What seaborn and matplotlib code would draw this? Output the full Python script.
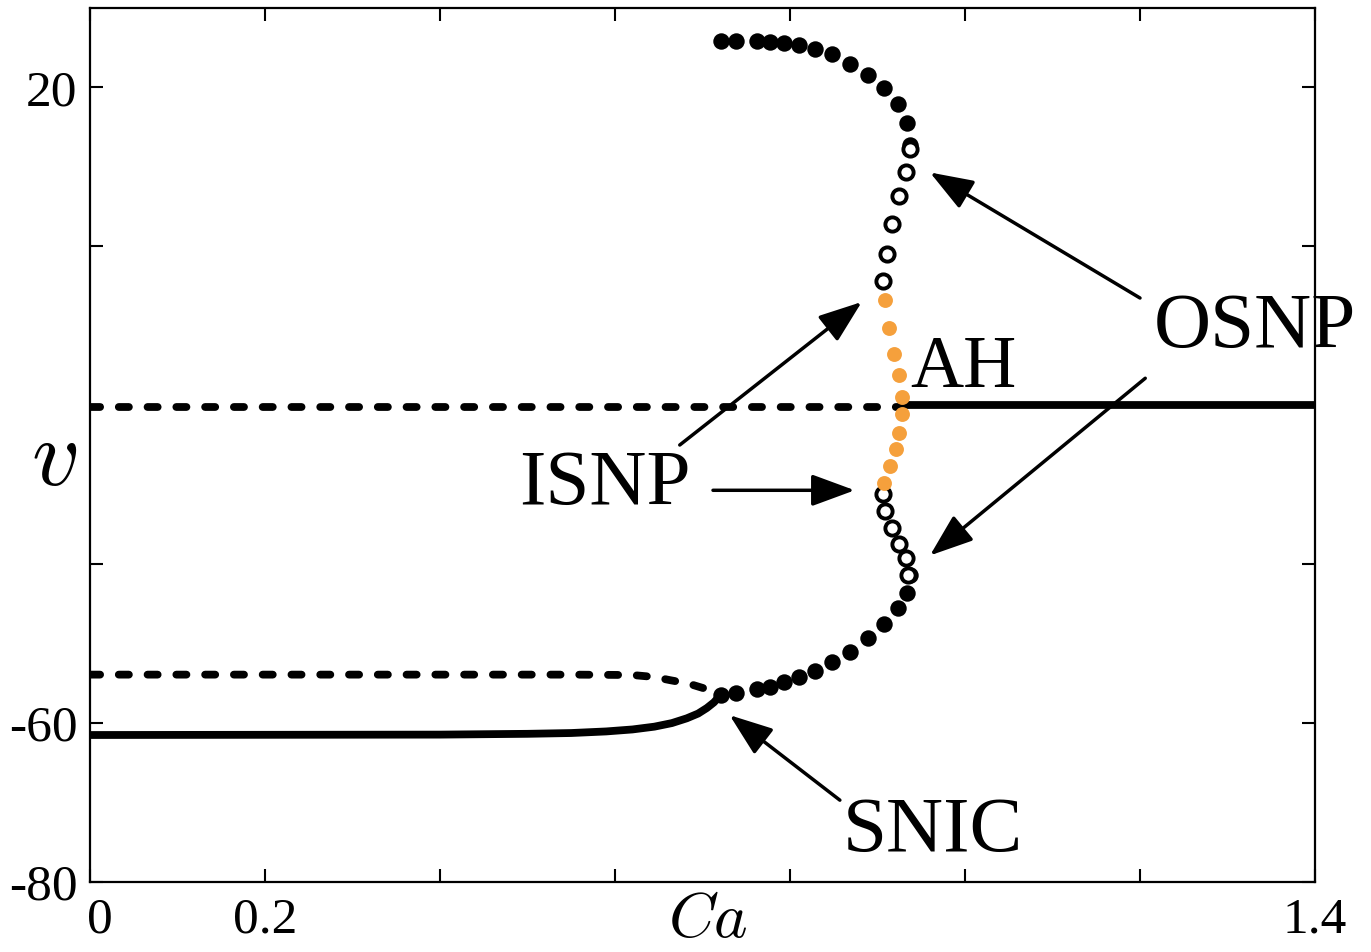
import numpy as np
import pandas as pd
import matplotlib
matplotlib.use("Agg")
import matplotlib.pyplot as plt
import matplotlib.transforms as mtransforms
import seaborn as sns

# ---------------- data ----------------
# equilibria
stable_low_x = [0.0, 0.40, 0.50, 0.55, 0.59, 0.62, 0.645, 0.665, 0.682, 0.695, 0.705, 0.713, 0.718, 0.722]
stable_low_v = [-61.5, -61.45, -61.35, -61.25, -61.05, -60.8, -60.45, -60.0, -59.4, -58.8, -58.1, -57.4, -56.8, -56.2]
saddle_x = [0.0, 0.55, 0.62, 0.645, 0.663, 0.683, 0.701, 0.713, 0.722]
saddle_v = [-53.9, -53.9, -53.95, -54.2, -54.6, -55.0, -55.6, -55.95, -56.2]
unstable_up_x = [0.0, 0.928]
unstable_up_v = [-20.2, -20.2]
stable_up_x = [0.928, 1.4]
stable_up_v = [-20.0, -20.0]

# stable periodic orbits (max / min)
spo_x = [0.721, 0.738, 0.762, 0.777, 0.793, 0.810, 0.829, 0.848, 0.869, 0.889, 0.907, 0.923, 0.934, 0.937]
spo_max = [25.8, 25.8, 25.8, 25.7, 25.6, 25.3, 24.9, 24.2, 23.0, 21.6, 19.9, 17.9, 15.5, 12.7]
spo_min = [-56.5, -56.2, -55.7, -55.4, -54.8, -54.2, -53.4, -52.3, -51.0, -49.3, -47.5, -45.5, -43.6, -41.4]

# unstable periodic orbits (outer, open circles)
upo_x_max = [0.937, 0.933, 0.925, 0.917, 0.911, 0.906]
upo_max = [12.3, 9.3, 6.3, 2.8, -0.9, -4.4]
upo_x_min = [0.935, 0.933, 0.925, 0.917, 0.909, 0.906]
upo_min = [-41.3, -39.2, -37.4, -35.5, -33.3, -31.2]

# unstable periodic orbits born at AH (orange)
ah_x = [0.909, 0.913, 0.919, 0.925, 0.928, 0.928, 0.925, 0.921, 0.914, 0.907]
ah_v = [-6.8, -10.3, -13.6, -16.2, -19.0, -21.1, -23.5, -25.5, -27.7, -29.8]

xtick_vals = [0, 0.2, 0.4, 0.6, 0.8, 1.0, 1.2, 1.4]
xtick_labels = ["0", "0.2", "", "", "", "", "", "1.4"]
ytick_vals = [-80, -60, -40, -20, 0, 20]
ytick_labels = ["-80", "-60", "", "", "", "20"]

# ---------------- style ----------------
sns.set_style("ticks")
plt.rcParams["font.family"] = ["Liberation Serif", "DejaVu Serif"]
plt.rcParams["mathtext.fontset"] = "cm"
plt.rcParams["text.color"] = "black"
plt.rcParams["axes.labelcolor"] = "black"

fig = plt.figure(figsize=(13.71, 9.52), dpi=100)
ax = fig.add_axes([90 / 1371, 1 - 882 / 952, 1225 / 1371, 874 / 952])

lw = 5.6
dash = (1.3, 2.4)

def line(x, v, dashed):
    df = pd.DataFrame({"x": x, "v": v})
    sns.lineplot(data=df, x="x", y="v", sort=False, ax=ax, color="black",
                 lw=lw, estimator=None, zorder=2)
    l = ax.lines[-1]
    l.set_solid_capstyle("round")
    l.set_solid_joinstyle("round")
    if dashed:
        l.set_linestyle((0, dash))
        l.set_dash_capstyle("round")

line(unstable_up_x, unstable_up_v, True)
line(saddle_x, saddle_v, True)
line(stable_low_x, stable_low_v, False)
line(stable_up_x, stable_up_v, False)

dot_s = 140
sns.scatterplot(x=spo_x, y=spo_max, ax=ax, s=dot_s, color="black", linewidth=0, zorder=4)
sns.scatterplot(x=spo_x, y=spo_min, ax=ax, s=dot_s, color="black", linewidth=0, zorder=4)
sns.scatterplot(x=upo_x_max, y=upo_max, ax=ax, s=105, facecolor="white", edgecolor="black",
                linewidth=2.8, zorder=5)
sns.scatterplot(x=upo_x_min, y=upo_min, ax=ax, s=105, facecolor="white", edgecolor="black",
                linewidth=2.8, zorder=5)
sns.scatterplot(x=ah_x, y=ah_v, ax=ax, s=115, color="#F5A03C", linewidth=0, zorder=6)

ax.set_xlim(0, 1.4)
ax.set_ylim(-80, 30)
ax.set_xticks(xtick_vals)
ax.set_xticklabels(xtick_labels)
ax.set_yticks(ytick_vals)
ax.set_yticklabels(ytick_labels)
ax.tick_params(direction="in", length=9.5, width=1.5, top=True, right=True,
               labelsize=37, colors="black")
ax.tick_params(axis="x", pad=11)
ax.tick_params(axis="y", pad=9)
for sp in ax.spines.values():
    sp.set_visible(True)
    sp.set_linewidth(1.6)
    sp.set_color("black")

# nudge the "0" label slightly to the right, as in the reference
lab0 = ax.get_xticklabels()[0]
lab0.set_transform(lab0.get_transform() + mtransforms.ScaledTranslation(10 / 100, 0, fig.dpi_scale_trans))

ax.set_xlabel("$Ca$", fontsize=46)
ax.xaxis.set_label_coords(0.504, -0.046)
ax.xaxis.label.set_va("center")
ax.set_ylabel("$v$", fontsize=68, rotation=0)
ax.yaxis.set_label_coords(-0.029, 0.48)
ax.yaxis.label.set_va("center")
ax.yaxis.label.set_ha("center")

# ---------------- annotations ----------------
arrows = [
    ((1.200, -6.5), (0.960, 9.3)),
    ((1.206, -16.6), (0.960, -38.9)),
    ((0.674, -25.0), (0.882, -7.0)),
    ((0.712, -30.7), (0.874, -30.7)),
    ((0.857, -69.7), (0.731, -59.0)),
]
for tail, head in arrows:
    ax.annotate("", xy=head, xytext=tail,
                arrowprops=dict(arrowstyle="-|>,head_length=0.95,head_width=0.35",
                                mutation_scale=28, lw=2.5, color="black",
                                shrinkA=0, shrinkB=0), zorder=7)

tsize = 57
ax.text(1.331, -10.3, "OSNP", fontsize=tsize, ha="center", va="center", color="black")
ax.text(0.589, -30.1, "ISNP", fontsize=tsize, ha="center", va="center", color="black")
ax.text(0.998, -15.5, "AH", fontsize=53, ha="center", va="center", color="black")
ax.text(0.963, -73.7, "SNIC", fontsize=tsize, ha="center", va="center", color="black")

fig.savefig("out.png", dpi=100)
